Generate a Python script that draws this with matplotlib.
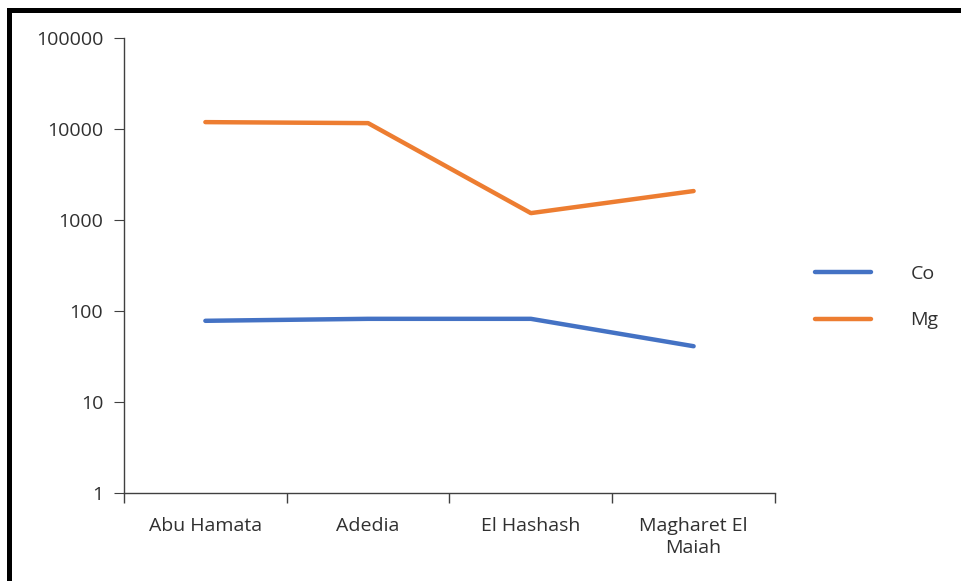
import matplotlib.pyplot as plt
from matplotlib.lines import Line2D

sites = ["Abu Hamata", "Adedia", "El Hashash", "Magharet El\nMaiah"]
co = [78, 82, 82, 41]
mg = [11900, 11600, 1190, 2080]
yticks = [1, 10, 100, 1000, 10000, 100000]

plt.rcParams['font.family'] = ['Open Sans', 'DejaVu Sans']

fig = plt.figure(figsize=(9.62, 5.81), dpi=100)
ax = fig.add_axes([0.1289, 0.1515, 0.6767, 0.7831])

x = list(range(len(sites)))
ax.plot(x, co, color='#4472C4', lw=3.2, solid_capstyle='round', label='Co')
ax.plot(x, mg, color='#ED7D31', lw=3.2, solid_capstyle='round', label='Mg')

ax.set_yscale('log')
ax.set_ylim(1, 100000)
ax.set_yticks(yticks)
ax.set_yticklabels([str(v) for v in yticks])
ax.minorticks_off()
ax.set_xlim(-0.5, len(sites) - 0.5)
ax.set_xticks(x)
ax.set_xticklabels(sites, linespacing=1.35)
ax.set_xticks([i - 0.5 for i in range(len(sites) + 1)], minor=True)
ax.tick_params(axis='x', which='major', length=0, pad=17, labelsize=14, colors='#303030')
ax.tick_params(axis='x', which='minor', length=7, color='#404040', width=1)
ax.tick_params(axis='y', length=7, color='#404040', labelsize=14, labelcolor='#303030', pad=8)

for s in ['top', 'right']:
    ax.spines[s].set_visible(False)
for s in ['left', 'bottom']:
    ax.spines[s].set_color('#404040')
    ax.spines[s].set_linewidth(1)

ax.legend(loc='center left', bbox_to_anchor=(1.035, 0.43), frameon=False,
          fontsize=14, handlelength=2.85, handletextpad=2.05, labelspacing=1.45,
          labelcolor='#303030')

# black frame on top and left
fig.add_artist(Line2D([8.5 / 962, 1], [1 - 9.5 / 581, 1 - 9.5 / 581], color='black', lw=3.6,
                      transform=fig.transFigure, solid_capstyle='projecting'))
fig.add_artist(Line2D([8.5 / 962, 8.5 / 962], [0, 1 - 9.5 / 581], color='black', lw=3.6,
                      transform=fig.transFigure, solid_capstyle='projecting'))

fig.savefig('out.png', dpi=100)
